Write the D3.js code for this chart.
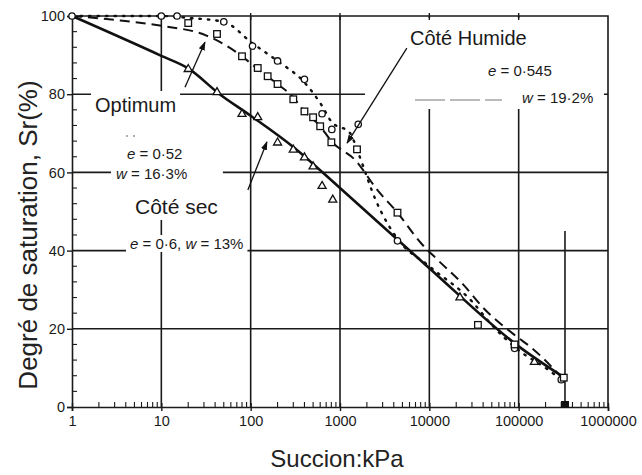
<!DOCTYPE html>
<html>
<head>
<meta charset="utf-8">
<script src="https://cdn.jsdelivr.net/npm/d3@7"></script>
<style>
  html, body { margin: 0; padding: 0; background: #fff; }
  svg { display: block; font-family: "Liberation Sans", Arial, sans-serif; }
</style>
</head>
<body>
<svg id="chart" width="642" height="475"></svg>
<script>
// ---------- data ----------
const xTickValues = [1, 10, 100, 1000, 10000, 100000, 1000000];
const yTickValues = [0, 20, 40, 60, 80, 100];

// Côté sec  (solid line, triangles)  e = 0.6, w = 13%
const secLine = [[1,100],[10,89.8],[20,86.6],[45,80],[100,74.5],[300,66.5],[1000,56],[10000,35.5],[100000,15.5],[300000,8]];
const secPoints = [[20,86.4],[42,80.5],[80,74.9],[120,74.1],[200,67.6],[300,65.8],[400,63.8],[500,61.5],[630,56.5],[830,53],[22000,28],[150000,11.5]];

// Optimum  (dashed line, squares)  e = 0.52, w = 16.3%
const optLine = [[1,100],[3,99],[10,97.5],[32,95],[80,89.7],[120,86.4],[200,82.6],[300,79.2],[400,75.6],[600,71.8],[800,68],[1500,63],[2600,55.6],[4400,49.7],[8000,42],[12300,37.7],[24000,31.3],[40000,25.4],[95000,18],[135000,15.4],[300000,7.7]];
const optPoints = [[20,98.2],[42,95.4],[80,89.7],[120,86.7],[155,84.6],[200,82.6],[300,78.7],[400,75.6],[500,74.1],[600,71.8],[800,67.7],[1550,65.9],[4400,49.7],[35000,21],[90000,16],[320000,7.5]];

// Côté Humide  (dotted line, circles)  e = 0.545, w = 19.2%
const humLine = [[1,100],[10,100],[20,99.5],[50,98.5],[105,93],[200,88.5],[400,83],[630,77],[800,73],[1300,70],[1600,65],[2500,53],[4400,43],[10000,36],[30000,27],[50000,21],[100000,14.5],[200000,10],[300000,7]];
const humPoints = [[1,100],[10,100],[15,100],[50,98.5],[105,92.3],[200,88.5],[400,83.8],[630,75],[810,71],[1600,72.3],[4400,42.5],[90000,15],[300000,7]];

// residual-suction marker (vertical line and filled square)
const residualSuction = 330000;
const residualTop = 45;

// annotation arrows: [tail, tip] in data coordinates
const arrowOptimum = [[18.4, 81.8], [30.8, 93.3]];
const arrowSec = [[93, 55.5], [152, 67.8]];
const arrowHumide = [[5600, 91.8], [1200, 67.5]];

// ---------- layout ----------
const svg = d3.select("#chart");
const x = d3.scaleLog().domain([1, 1e6]).range([72, 608]);
const y = d3.scaleLinear().domain([0, 100]).range([407, 16]);

const defs = svg.append("defs");
defs.append("marker").attr("id", "ah").attr("viewBox", "0 0 10 10")
  .attr("refX", 9).attr("refY", 5).attr("markerWidth", 9).attr("markerHeight", 9)
  .attr("markerUnits", "userSpaceOnUse").attr("orient", "auto")
  .append("path").attr("d", "M0,1.5 L10,5 L0,8.5 Z").attr("fill", "#111");

// grid
const grid = svg.append("g").attr("stroke", "#1a1a1a").attr("stroke-width", 1.6);
grid.selectAll("line.v").data(xTickValues.slice(1, -1)).join("line")
  .attr("x1", d => x(d)).attr("x2", d => x(d)).attr("y1", y(100)).attr("y2", y(0));
grid.selectAll("line.h").data(yTickValues.slice(1, -1)).join("line")
  .attr("x1", x(1)).attr("x2", x(1e6)).attr("y1", d => y(d)).attr("y2", d => y(d));

function addText(g, xx, yy, parts, size) {
  const t = g.append("text").attr("x", xx).attr("y", yy).attr("font-size", size);
  parts.forEach(p => {
    t.append("tspan").attr("font-style", p[1] ? "italic" : "normal").text(p[0]);
  });
  return t;
}
const bgLayer = svg.append("g");
const labelLayer = svg.append("g").attr("fill", "#1a1a1a");

const tOpt = addText(labelLayer, 95, 112, [["Optimum", false]], 20);
const tE52 = addText(labelLayer, 127, 159, [["e", true], [" = 0·52", false]], 15);
const tW163 = addText(labelLayer, 116, 179, [["w", true], [" = 16·3%", false]], 15);
const tSec = addText(labelLayer, 135, 214, [["Côté sec", false]], 21);
const tE6 = addText(labelLayer, 130, 249, [["e", true], [" = 0·6, ", false], ["w", true], [" = 13%", false]], 15);
const tHum = addText(labelLayer, 410, 45, [["Côté Humide", false]], 20);
const tE545 = addText(labelLayer, 488, 76, [["e", true], [" = 0·545", false]], 15);
const tW192 = addText(labelLayer, 522, 103, [["w", true], [" = 19·2%", false]], 15);

function bb(t) { return t.node().getBBox(); }
function whiteBox(x0, y0, x1, y1) {
  bgLayer.append("rect").attr("x", x0).attr("y", y0).attr("width", x1 - x0).attr("height", y1 - y0).attr("fill", "#fff");
}
{
  const b1 = bb(tOpt);
  whiteBox(b1.x - 4, b1.y - 3, b1.x + b1.width + 4, b1.y + b1.height + 2);
  const bs = [bb(tE52), bb(tW163), bb(tSec)];
  const x0 = d3.min(bs, b => b.x) - 5, x1 = d3.max(bs, b => b.x + b.width) + 5;
  const y1 = d3.max(bs, b => b.y + b.height) + 2;
  whiteBox(x0, b1.y + b1.height + 2, x1, y1);
  const b6 = bb(tE6);
  whiteBox(b6.x - 4, b6.y, b6.x + b6.width + 4, b6.y + b6.height);
  const bh = [bb(tHum), bb(tE545), bb(tW192)];
  whiteBox(x(1000) + 25, y(100) + 2, x(1e6) - 4, d3.max(bh, b => b.y + b.height) + 3);
}

// faint legend samples
svg.append("line").attr("x1", 415).attr("x2", 502).attr("y1", 100).attr("y2", 100)
  .attr("stroke", "#777").attr("stroke-width", 1).attr("stroke-dasharray", "30,5");
svg.append("g").selectAll("circle").data([0, 1]).join("circle")
  .attr("cx", (d, i) => 127 + i * 7).attr("cy", 136).attr("r", 0.9).attr("fill", "#888");

// frame
svg.append("path")
  .attr("d", `M${x(1)},${y(100)} H${x(1e6)} V${y(0)}`)
  .attr("fill", "none").attr("stroke", "#1a1a1a").attr("stroke-width", 1.6);

// top decade ticks
svg.append("g").selectAll("line").data(xTickValues.slice(1, -1)).join("line")
  .attr("x1", d => x(d)).attr("x2", d => x(d)).attr("y1", y(100) - 3).attr("y2", y(100) + 4)
  .attr("stroke", "#1a1a1a").attr("stroke-width", 1.4);

// axes
const axisFont = 14.5;
const gx = svg.append("g").attr("transform", `translate(0,${y(0)})`)
  .call(d3.axisBottom(x).tickValues(xTickValues).tickFormat(d3.format("d")).tickSize(4).tickPadding(5));
gx.select(".domain").attr("stroke", "#1a1a1a").attr("stroke-width", 1.6);
gx.selectAll(".tick line").attr("stroke", "#1a1a1a").attr("stroke-width", 1.4).attr("y1", -4);
gx.selectAll(".tick text").attr("font-size", axisFont).attr("fill", "#1a1a1a").attr("font-family", "Liberation Sans, Arial");

const minorX = [];
for (let e = 0; e < 6; e++) for (let m = 2; m <= 9; m++) minorX.push(m * Math.pow(10, e));
svg.append("g").selectAll("line").data(minorX).join("line")
  .attr("x1", d => x(d)).attr("x2", d => x(d)).attr("y1", y(0)).attr("y2", y(0) - 5)
  .attr("stroke", "#1a1a1a").attr("stroke-width", 1.1);

const gy = svg.append("g").attr("transform", `translate(${x(1)},0)`)
  .call(d3.axisLeft(y).tickValues(yTickValues).tickSize(5).tickPadding(2));
gy.select(".domain").attr("stroke", "#1a1a1a").attr("stroke-width", 1.6);
gy.selectAll(".tick line").attr("stroke", "#1a1a1a").attr("stroke-width", 1.4);
gy.selectAll(".tick text").attr("font-size", axisFont).attr("fill", "#1a1a1a").attr("font-family", "Liberation Sans, Arial");

const minorY = d3.range(0, 101, 4).filter(v => v % 20 !== 0);
svg.append("g").selectAll("line").data(minorY).join("line")
  .attr("x1", x(1)).attr("x2", x(1) + 5).attr("y1", d => y(d)).attr("y2", d => y(d))
  .attr("stroke", "#1a1a1a").attr("stroke-width", 1.1);

// axis titles
svg.append("text").attr("x", 337).attr("y", 467).attr("text-anchor", "middle")
  .attr("font-size", 24).attr("fill", "#222").text("Succion:kPa");
svg.append("text").attr("transform", `translate(37,235) rotate(-90)`)
  .attr("text-anchor", "middle").attr("font-size", 26).attr("fill", "#222")
  .text("Degré de saturation, Sr(%)");

// residual suction marker
svg.append("line").attr("x1", x(residualSuction)).attr("x2", x(residualSuction))
  .attr("y1", y(residualTop)).attr("y2", y(0)).attr("stroke", "#1a1a1a").attr("stroke-width", 1.6);
svg.append("rect").attr("x", x(residualSuction) - 4).attr("y", y(0) - 6).attr("width", 8).attr("height", 7).attr("fill", "#111");

// curves
const line = d3.line().x(d => x(d[0])).y(d => y(d[1])).curve(d3.curveMonotoneX);
const curves = svg.append("g").attr("fill", "none").attr("stroke", "#111");
curves.append("path").datum(secLine).attr("d", line).attr("stroke-width", 2.6);
curves.append("path").datum(optLine).attr("d", line).attr("stroke-width", 2).attr("stroke-dasharray", "10,6");
curves.append("path").datum(humLine).attr("d", line).attr("stroke-width", 2.4)
  .attr("stroke-dasharray", "1.5,7").attr("stroke-linecap", "round");

// markers
const mk = svg.append("g").attr("fill", "#fff").attr("stroke", "#111").attr("stroke-width", 1.3);
mk.selectAll("circle").data(humPoints).join("circle")
  .attr("cx", d => x(d[0])).attr("cy", d => y(d[1])).attr("r", 3.2);
mk.selectAll("rect").data(optPoints).join("rect")
  .attr("x", d => x(d[0]) - 3.3).attr("y", d => y(d[1]) - 3.3).attr("width", 6.6).attr("height", 6.6);
const tri = d3.symbol().type(d3.symbolTriangle).size(28);
mk.selectAll("path.tri").data(secPoints).join("path").attr("class", "tri")
  .attr("transform", d => `translate(${x(d[0])},${y(d[1])})`).attr("d", tri);

// arrows
const arrows = svg.append("g").attr("stroke", "#111").attr("stroke-width", 1.3);
[arrowOptimum, arrowSec, arrowHumide].forEach(a => {
  arrows.append("line")
    .attr("x1", x(a[0][0])).attr("y1", y(a[0][1]))
    .attr("x2", x(a[1][0])).attr("y2", y(a[1][1]))
    .attr("marker-end", "url(#ah)");
});
</script>
</body>
</html>
